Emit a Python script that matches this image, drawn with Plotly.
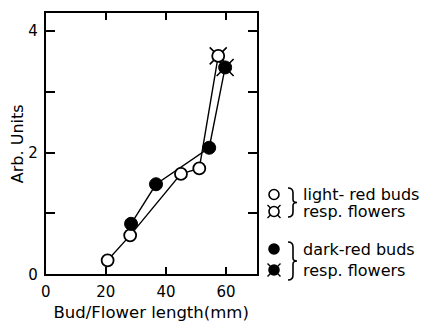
import plotly.graph_objects as go

# ---- data ----
light_len = [20.6, 28.1, 45.0, 51.1, 57.4]     # light-red buds; last = resp. flower
light_val = [0.23, 0.64, 1.65, 1.74, 3.59]
dark_len = [28.4, 36.7, 54.4, 59.7]            # dark-red buds; last = resp. flower
dark_val = [0.83, 1.48, 2.08, 3.40]
x_ticks = [0, 20, 40, 60]
y_ticks = [0, 1, 2, 3, 4]
y_ticktext = ["0", "", "2", "", "4"]
legend_rows = [("light- red buds", "resp. flowers", "white"),
               ("dark-red buds", "resp. flowers", "black")]

W, H = 424, 322
L, R, T, B = 45.7, 256.7, 13.3, 274.3
FONT = "DejaVu Sans"

fig = go.Figure()

# connecting lines
fig.add_trace(go.Scatter(x=light_len, y=light_val, mode="lines",
                         line=dict(color="black", width=1.4), hoverinfo="skip"))
fig.add_trace(go.Scatter(x=dark_len, y=dark_val, mode="lines",
                         line=dict(color="black", width=1.4), hoverinfo="skip"))
# flower spikes
fig.add_trace(go.Scatter(x=[light_len[-1], dark_len[-1]], y=[light_val[-1], dark_val[-1]],
                         mode="markers",
                         marker=dict(symbol="x-thin", size=17, color="black",
                                     line=dict(color="black", width=1.6)),
                         hoverinfo="skip"))
# markers
fig.add_trace(go.Scatter(x=light_len, y=light_val, mode="markers",
                         marker=dict(symbol="circle", size=12, color="white",
                                     line=dict(color="black", width=1.8))))
fig.add_trace(go.Scatter(x=dark_len, y=dark_val, mode="markers",
                         marker=dict(symbol="circle", size=13, color="black",
                                     line=dict(color="black", width=1))))

# ---- custom legend on an overlay pixel axis ----
row_y = [(194.5, 211.5), (249, 270)]
brace_spans = [(188, 217), (242, 280)]
for (t1, t2, fill), (ya, yb), (b0, b1) in zip(legend_rows, row_y, brace_spans):
    fig.add_trace(go.Scatter(x=[274], y=[yb], xaxis="x2", yaxis="y2", mode="markers",
                             marker=dict(symbol="x-thin", size=13, color="black",
                                         line=dict(color="black", width=1.4)),
                             hoverinfo="skip"))
    fig.add_trace(go.Scatter(x=[274, 274], y=[ya, yb], xaxis="x2", yaxis="y2", mode="markers",
                             marker=dict(symbol="circle", size=10, color=fill,
                                         line=dict(color="black", width=1.6)),
                             hoverinfo="skip"))
    fig.add_annotation(x=301, y=ya, xref="x2", yref="y2", text=t1, showarrow=False,
                       xanchor="left", yanchor="middle", font=dict(family=FONT, size=16, color="black"))
    fig.add_annotation(x=301, y=yb, xref="x2", yref="y2", text=t2, showarrow=False,
                       xanchor="left", yanchor="middle", font=dict(family=FONT, size=16, color="black"))
    m = (b0 + b1) / 2
    path = (f"M 288 {b0} Q 293 {b0} 293 {b0+5} L 293 {m-3} Q 293 {m} 297 {m} "
            f"Q 293 {m} 293 {m+3} L 293 {b1-5} Q 293 {b1} 288 {b1}")
    fig.add_shape(type="path", path=path, xref="x2", yref="y2",
                  line=dict(color="black", width=1.6))

fig.update_layout(
    width=W, height=H,
    margin=dict(l=0, r=0, t=0, b=0),
    paper_bgcolor="white", plot_bgcolor="rgba(0,0,0,0)",
    showlegend=False,
    font=dict(family=FONT, color="black"),
    xaxis=dict(domain=[L / W, R / W], range=[0, 70.2], tickvals=x_ticks,
               ticks="inside", ticklen=7, tickwidth=1.6, tickcolor="black",
               showline=True, linecolor="black", linewidth=2, mirror="ticks",
               showgrid=False, zeroline=False, automargin=False,
               tickfont=dict(family=FONT, size=15), ticklabelstandoff=3,
               title=dict(text="Bud/Flower length(mm)", font=dict(family=FONT, size=16.5), standoff=7)),
    yaxis=dict(domain=[(H - B) / H, (H - T) / H], range=[0, 4.29], tickvals=y_ticks,
               ticktext=y_ticktext,
               ticks="inside", ticklen=9, tickwidth=1.6, tickcolor="black",
               showline=True, linecolor="black", linewidth=2, mirror="ticks",
               showgrid=False, zeroline=False, automargin=False,
               tickfont=dict(family=FONT, size=15), ticklabelstandoff=3,
               title=dict(text="Arb. Units", font=dict(family=FONT, size=16), standoff=1)),
    xaxis2=dict(domain=[0, 1], range=[0, W], visible=False, anchor="y2"),
    yaxis2=dict(domain=[0, 1], range=[H, 0], visible=False, anchor="x2"),
)

fig.write_html("out.html")
